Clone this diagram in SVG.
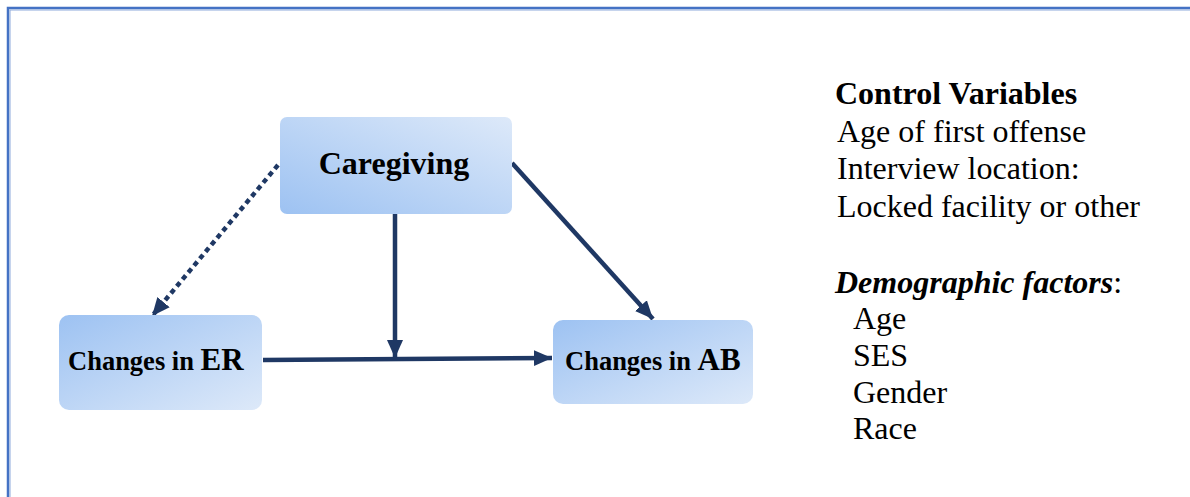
<svg xmlns="http://www.w3.org/2000/svg" width="1190" height="497" viewBox="0 0 1190 497">
<style>
.t{font-family:"Liberation Serif","Times New Roman",serif;fill:#000}
.b{font-weight:bold}
.r{font-size:32px}
.c{stroke:#1f3864;stroke-width:4.5;fill:none}
</style>
<defs>
<linearGradient id="gBL" x1="0" y1="1" x2="1" y2="0">
<stop offset="0" stop-color="#9dc2f2"/><stop offset="1" stop-color="#dde9f9"/>
</linearGradient>
<linearGradient id="gTL" x1="0" y1="0" x2="1" y2="1">
<stop offset="0" stop-color="#9dc2f2"/><stop offset="1" stop-color="#dde9f9"/>
</linearGradient>
<marker id="ah" markerUnits="userSpaceOnUse" markerWidth="20" markerHeight="18" refX="18" refY="9" orient="auto">
<path d="M0,1 L18,9 L0,17 Z" fill="#1f3864"/>
</marker>
</defs>
<rect width="1190" height="497" fill="#fff"/>
<path d="M8,497 V8 H1190" fill="none" stroke="#4472c4" stroke-width="2.5"/>
<path d="M10,497 V10 H1190" fill="none" stroke="#8eaadb" stroke-width="1"/>
<g id="connectors">
<line class="c" x1="278" y1="165" x2="152" y2="316" stroke-dasharray="5 4" marker-end="url(#ah)"/>
<line class="c" x1="395" y1="214" x2="395" y2="358" marker-end="url(#ah)"/>
<line class="c" x1="512" y1="163" x2="653" y2="319" marker-end="url(#ah)"/>
<line class="c" x1="263" y1="360" x2="552" y2="358" stroke="#0f2a66" marker-end="url(#ah)"/>
</g>
<g id="caregiving">
<rect x="280" y="117" width="232" height="97" rx="7" fill="url(#gBL)"/>
<text class="t b" x="394" y="174" font-size="32" text-anchor="middle">Caregiving</text>
</g>
<g id="er">
<rect x="59" y="315" width="203" height="95" rx="10" fill="url(#gTL)"/>
<text class="t b" x="68" y="370" font-size="26.5">Changes in <tspan font-size="31">ER</tspan></text>
</g>
<g id="ab">
<rect x="553" y="320" width="200" height="84" rx="10" fill="url(#gTL)"/>
<text class="t b" x="565" y="370" font-size="26.5">Changes in <tspan font-size="31">AB</tspan></text>
</g>
<g id="controls">
<text class="t b r" x="835" y="104">Control Variables</text>
<text class="t r" x="837" y="142">Age of first offense</text>
<text class="t r" x="837" y="179">Interview location:</text>
<text class="t r" x="837" y="217">Locked facility or other</text>
<text class="t r" x="835" y="293"><tspan font-weight="bold" font-style="italic">Demographic factors</tspan>:</text>
<text class="t r" x="853" y="329">Age</text>
<text class="t r" x="853" y="366">SES</text>
<text class="t r" x="853" y="403">Gender</text>
<text class="t r" x="853" y="439">Race</text>
</g>
</svg>
